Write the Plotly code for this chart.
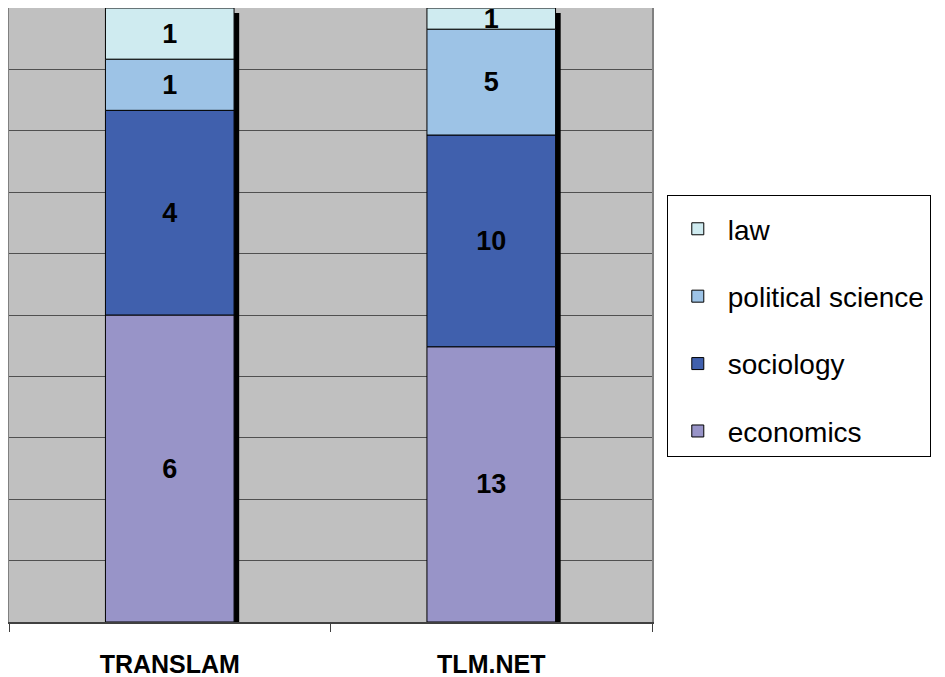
import plotly.graph_objects as go

categories = ["TRANSLAM", "TLM.NET"]
series_names = ["economics", "sociology", "political science", "law"]
economics = [6, 13]
sociology = [4, 10]
political_science = [1, 5]
law = [1, 1]
colors = ["#9894C8", "#4060AD", "#9DC3E6", "#CFEBF0"]

values = [economics, sociology, political_science, law]
totals = [sum(v[i] for v in values) for i in range(len(categories))]

fig = go.Figure()

# shadow bars (3D-like right edge)
fig.add_trace(go.Bar(
    x=categories, y=[0.992] * len(categories), base=[0] * len(categories),
    width=0.016, offset=0.2, marker=dict(color="black", line=dict(width=0)),
    showlegend=False, hoverinfo="skip"))

cum = [0.0] * len(categories)
for idx, (name, vals) in enumerate(zip(series_names, values)):
    frac = [v / t for v, t in zip(vals, totals)]
    fig.add_trace(go.Bar(
        x=categories, y=frac, base=list(cum), name=name,
        width=0.4, marker=dict(color=colors[idx], line=dict(color="black", width=1)),
        text=[str(v) for v in vals], textposition="inside", insidetextanchor="middle",
        textangle=0,
        textfont=dict(family="Liberation Sans, Arial", size=27, color="black", weight="bold"),
        legendgroup=name, legendrank=len(series_names) - idx))
    cum = [c + f for c, f in zip(cum, frac)]

fig.update_layout(
    width=945, height=677,
    barmode="overlay",
    margin=dict(l=1, r=301, t=0, b=63),
    paper_bgcolor="white",
    plot_bgcolor="#C0C0C0",
    font=dict(family="Liberation Sans, Arial", color="black"),
    uniformtext=dict(minsize=27, mode="show"),
    showlegend=True,
    legend=dict(
        x=1.023, y=0.695, xanchor="left", yanchor="top",
        bordercolor="black", borderwidth=1, bgcolor="white",
        font=dict(size=28, family="Liberation Sans, Arial"),
        tracegroupgap=28, traceorder="grouped",
        itemwidth=50,
        title=dict(text=" ", font=dict(size=6)),
    ),
    xaxis=dict(
        type="category", range=[-0.5, 1.5],
        showgrid=False, tickson="boundaries", ticks="outside", ticklen=8,
        tickcolor="#404040", showline=True, linecolor="#404040", linewidth=2,
        tickfont=dict(size=25, family="Liberation Sans, Arial", weight="bold"),
        ticklabelstandoff=19,
        mirror=False,
    ),
    yaxis=dict(
        range=[0, 1], dtick=0.1, showticklabels=False,
        showgrid=True, gridcolor="#505050", gridwidth=1,
        showline=True, linecolor="#808080", linewidth=2, mirror=True,
        zeroline=False, ticks="",
    ),
)

fig.write_html("out.html")
